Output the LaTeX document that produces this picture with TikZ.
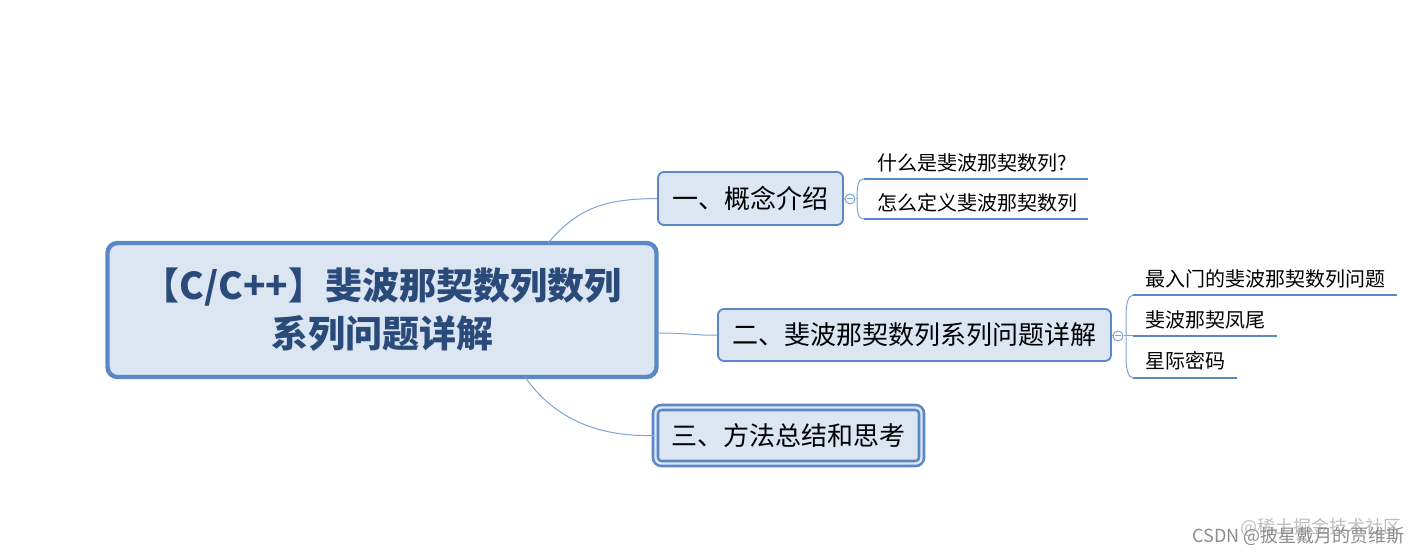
\documentclass[tikz,border=0pt]{standalone}
\usepackage{fontspec}
\newfontfamily\cjk{Noto Sans CJK SC}
\usepackage{xcolor}
\definecolor{bd}{HTML}{5A87C6}
\definecolor{fl}{HTML}{DCE6F2}
\definecolor{tx}{HTML}{2A4A7A}
\definecolor{ln}{HTML}{7FA3D3}
\begin{document}
\begin{tikzpicture}[x=0.5pt,y=-0.5pt,
 box/.style={draw=bd,fill=fl,rounded corners=3pt,line width=0.9pt,inner sep=0pt,text=black,font=\cjk\fontsize{13}{15}\selectfont},
 leaf/.style={anchor=south west,inner sep=0pt,font=\cjk\fontsize{10}{12}\selectfont},
 ul/.style={draw=bd,line width=1.2pt},
 con/.style={draw=ln,line width=0.5pt}]
\useasboundingbox (0,0) rectangle (1423,555);
\node[box,line width=2.2pt,rounded corners=5pt,minimum width=274.5pt,minimum height=67pt,font=\cjk\bfseries\fontsize{18.5}{24}\selectfont,text=tx,align=center] (root) at (382,310) {【C/C++】斐波那契数列数列\\系列问题详解};
\node[box,minimum width=92.5pt,minimum height=26.5pt] (n1) at (750.5,198.5) {一、概念介绍};
\node[box,minimum width=196.5pt,minimum height=26pt] (n2) at (914.5,335) {二、斐波那契数列系列问题详解};
\node[box,double=fl,draw=bd,double distance=1.2pt,line width=1.3pt,minimum width=133pt,minimum height=28pt] (n3) at (788.5,435.5) {三、方法总结和思考};
\draw[con] (548,243) .. controls (580,205) and (610,199) .. (n1.west);
\draw[con] (root.east|-0,333) .. controls (690,333) and (700,336) .. (n2.west);
\draw[con] (525,377) .. controls (555,420) and (600,437) .. (n3.west);
\node[circle,draw=ln,line width=0.5pt,inner sep=0pt,minimum size=5pt] (c1) at (850,199) {};
\node[circle,draw=ln,line width=0.5pt,inner sep=0pt,minimum size=5pt] (c2) at (1118,336) {};
\draw[con] (n1.east) -- (c1.west);
\draw[con] (n2.east) -- (c2.west);
\draw[con] (847,199) -- (853,199);
\draw[con] (1115,336) -- (1121,336);
\coordinate (a1) at (864,179); \coordinate (a2) at (1088,179);
\coordinate (b1) at (864,219); \coordinate (b2) at (1088,219);
\draw[ul] (a1) -- (a2); \draw[ul] (b1) -- (b2);
\node[leaf] (l1) at (877,173) {什么是斐波那契数列?};
\node[leaf] (l2) at (877,213) {怎么定义斐波那契数列};
\draw[con] (c1.east) -- (857,199);
\draw[con] (a1) .. controls (858,179) and (857,185) .. (857,199) .. controls (857,213) and (858,219) .. (b1);
\coordinate (d1) at (1133,295); \coordinate (d2) at (1397,295);
\coordinate (e1) at (1133,336); \coordinate (e2) at (1277,336);
\coordinate (f1) at (1133,378); \coordinate (f2) at (1237,378);
\draw[ul] (d1) -- (d2); \draw[ul] (e1) -- (e2); \draw[ul] (f1) -- (f2);
\node[leaf] (m1) at (1145,289) {最入门的斐波那契数列问题};
\node[leaf] (m2) at (1145,330) {斐波那契凤尾};
\node[leaf] (m3) at (1145,371) {星际密码};
\draw[con] (c2.east) -- (e1);
\draw[con] (d1) .. controls (1128,295) and (1126,305) .. (1126,315) -- (1126,357) .. controls (1126,368) and (1128,378) .. (f1);
\node[anchor=east,inner sep=0pt,text=black!25,font=\cjk\fontsize{9}{10}\selectfont] (w2) at (1402,527) {@稀土掘金技术社区};
\node[anchor=east,inner sep=0pt,text=black!45,font=\cjk\fontsize{9}{10}\selectfont] (w1) at (1405,536) {CSDN @披星戴月的贾维斯};
\end{tikzpicture}
\end{document}
